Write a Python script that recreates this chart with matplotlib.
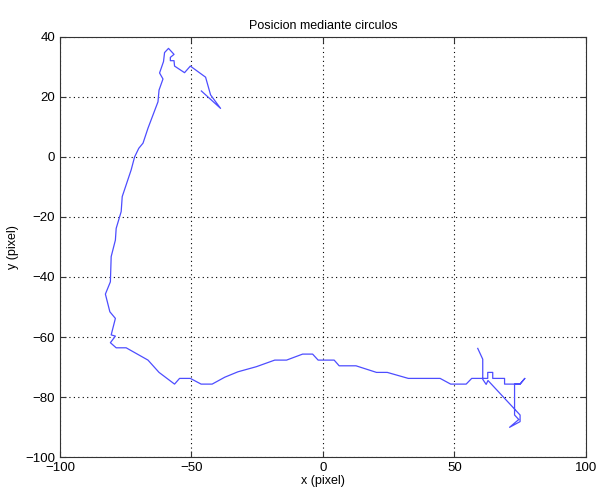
import matplotlib
matplotlib.use("Agg")
import matplotlib.pyplot as plt

plt.rcParams["font.family"] = ["Liberation Sans", "DejaVu Sans"]

# track of the circle centre (pixel coordinates)
x_pos = [58.9, 60.8, 60.8, 62.1, 62.8, 75.0, 75.0, 71.0, 74.5, 72.9,
         72.9, 75.0, 76.8, 75.0, 69.1, 69.1, 64.6, 64.6, 62.7, 62.7,
         56.6, 54.5, 48.6, 44.6, 32.5, 24.5, 20.4, 12.6, 6.2, 4.3,
         -1.8, -3.9, -7.7, -13.8, -18.3, -25.3, -32.3, -37.3, -42.1, -46.3,
         -50.4, -54.5, -56.4, -62.3, -66.5, -74.8, -78.6, -80.8, -78.9, -80.5,
         -78.9, -81.0, -82.7, -80.8, -80.5, -78.9, -78.6, -76.7, -76.3, -72.9,
         -71.6, -70.0, -68.4, -66.5, -62.7, -62.3, -60.8, -62.1, -60.6, -60.2,
         -58.7, -56.6, -58.0, -58.0, -56.6, -56.4, -52.6, -50.4, -44.6, -42.7,
         -38.9, -46.2]
y_pos = [-63.8, -67.4, -74.1, -75.8, -74.5, -86.0, -88.2, -90.1, -87.5, -86.0,
         -75.7, -75.7, -73.8, -75.7, -75.7, -73.8, -73.8, -71.8, -71.8, -73.8,
         -73.8, -75.7, -75.7, -73.8, -73.8, -71.8, -71.8, -69.6, -69.6, -67.7,
         -67.7, -65.7, -65.7, -67.7, -67.7, -69.9, -71.6, -73.4, -75.7, -75.7,
         -73.8, -73.8, -75.7, -71.8, -67.7, -63.6, -63.6, -61.9, -59.7, -59.3,
         -53.8, -51.6, -45.7, -41.6, -33.2, -27.7, -23.8, -18.2, -13.2, -4.3,
         0.0, 2.9, 4.6, 9.6, 18.4, 22.3, 26.0, 28.0, 31.8, 34.8,
         36.2, 34.2, 33.2, 32.1, 32.1, 30.3, 28.1, 30.3, 26.6, 20.7,
         16.2, 22.0]

fig = plt.figure(figsize=(5.99, 4.93), dpi=100)
ax = fig.add_axes([0.1, 0.073, 0.878, 0.852])

ax.plot(x_pos, y_pos, color="#4d4dff", linewidth=0.9)

ax.set_xlim(-100, 100)
ax.set_ylim(-100, 40)
ax.set_xticks(range(-100, 101, 50))
ax.set_yticks(range(-100, 41, 20))
ax.grid(True, linestyle=(0, (1, 3)), color="black", linewidth=0.8)
ax.tick_params(direction="in", top=True, right=True, labelsize=9.5, length=4,
               color="#333333")
for sp in ax.spines.values():
    sp.set_color("#333333")

ax.set_title("Posicion mediante circulos", fontsize=9)
ax.set_xlabel("x (pixel)", fontsize=9, labelpad=1)
ax.set_ylabel("y (pixel)", fontsize=9, labelpad=4)

fig.savefig("out.png", dpi=100)
